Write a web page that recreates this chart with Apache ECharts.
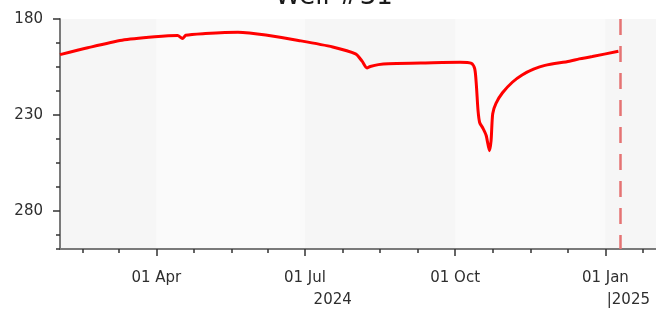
<!DOCTYPE html>
<html>
<head>
<meta charset="utf-8">
<title>Well #31</title>
<script src="https://cdn.jsdelivr.net/npm/echarts@6/dist/echarts.min.js"></script>
<style>
  html, body { margin: 0; padding: 0; background: #fff; }
  #main { width: 656px; height: 311px; }
</style>
</head>
<body>
<div id="main"></div>
<script>
// water level readings (depth)
var obsDates = ['2024-02-02', '2024-02-19', '2024-03-11', '2024-03-31', '2024-04-14', '2024-04-17',
  '2024-04-19', '2024-05-01', '2024-05-21', '2024-05-28', '2024-06-07', '2024-06-27', '2024-07-18',
  '2024-08-01', '2024-08-05', '2024-08-08', '2024-08-10', '2024-08-15', '2024-08-21', '2024-09-10',
  '2024-10-04', '2024-10-11', '2024-10-13', '2024-10-14', '2024-10-15', '2024-10-16', '2024-10-18',
  '2024-10-20', '2024-10-22', '2024-10-23', '2024-10-24', '2024-10-26', '2024-10-30', '2024-11-05',
  '2024-11-11', '2024-11-18', '2024-11-25', '2024-12-10', '2024-12-16', '2024-12-24', '2025-01-09'];
var obsValues = [198.6, 195.0, 191.1, 189.3, 188.6, 190.2,
  188.5, 187.6, 186.9, 187.3, 188.4, 191.2, 194.6,
  198.2, 202.0, 205.5, 204.8, 203.8, 203.3, 203.0,
  202.6, 203.2, 206.0, 214.6, 227.7, 234.0, 237.0,
  240.8, 248.7, 243.5, 229.4, 224.0, 218.5, 213.0,
  209.2, 206.2, 204.2, 202.0, 200.8, 199.6, 196.8];

var axisStart = '2024-02-02';
var axisEnd = '2025-02-01';
var markerDate = '2025-01-10';
var quarterStarts = ['2024-01-01', '2024-04-01', '2024-07-01', '2024-10-01', '2025-01-01', '2025-04-01'];
var quarterLabels = { '2024-04-01': '01 Apr', '2024-07-01': '01 Jul', '2024-10-01': '01 Oct', '2025-01-01': '01 Jan' };
var yearLabels = ['2024', '|2025'];

function fmt(d) { return d.toISOString().slice(0, 10); }
function parse(s) { return new Date(s + 'T00:00:00Z'); }

// daily categories for the x axis
var days = [];
for (var t = parse(axisStart); t <= parse(axisEnd); t = new Date(t.getTime() + 86400000)) {
  days.push(fmt(t));
}

// minor ticks: each quarter cut in four
var minorDays = {};
for (var q = 0; q < quarterStarts.length - 1; q++) {
  var a = parse(quarterStarts[q]), b = parse(quarterStarts[q + 1]);
  var len = (b - a) / 86400000;
  for (var k = 1; k < 4; k++) {
    minorDays[fmt(new Date(a.getTime() + Math.round(len * k / 4) * 86400000))] = true;
  }
}

// year labels: 2024 centred on its visible part, 2025 at its start
var yearIdx2024 = Math.round(days.indexOf('2024-12-31') / 2);
var yearAt = {};
yearAt[days[yearIdx2024]] = yearLabels[0];
yearAt['2025-01-01'] = yearLabels[1];

var seriesData = obsDates.map(function (d, i) { return [d, obsValues[i]]; });

var labelFont = { fontFamily: 'DejaVu Sans', fontSize: 15, color: '#2e2e2e' };

var myChart = echarts.init(document.getElementById('main'));
myChart.setOption({
  animation: false,
  title: {
    text: 'Well #31',
    left: 270,
    top: -21,
    textStyle: { fontFamily: 'DejaVu Sans', fontSize: 26, fontWeight: 'normal', color: '#1a1a1a' }
  },
  grid: {
    left: 60, right: 0, top: 19, bottom: 62,
    show: true, backgroundColor: '#f6f6f6', borderWidth: 0
  },
  xAxis: [
    {
      type: 'category', data: days, boundaryGap: false, position: 'bottom',
      axisLine: { lineStyle: { color: '#7a7a7a', width: 2 } },
      axisTick: {
        interval: function (i, v) { return !!quarterLabels[v]; },
        length: 7, lineStyle: { color: '#333', width: 1.5 }
      },
      axisLabel: Object.assign({
        interval: function (i, v) { return !!quarterLabels[v]; },
        formatter: function (v) { return quarterLabels[v] || ''; },
        margin: 22
      }, labelFont),
      splitLine: { show: false },
      splitArea: {
        show: true,
        interval: function (i, v) { return !!quarterLabels[v]; },
        areaStyle: { color: ['#fafafa', '#f6f6f6'] }
      }
    },
    {
      type: 'category', data: days, boundaryGap: false, position: 'bottom',
      axisLine: { show: false },
      axisTick: {
        interval: function (i, v) { return !!minorDays[v]; },
        length: 4, lineStyle: { color: '#333', width: 1.5 }
      },
      axisLabel: { show: false },
      splitLine: { show: false }
    },
    {
      type: 'category', data: days, boundaryGap: false, position: 'bottom',
      axisLine: { show: false },
      axisTick: { show: false },
      axisLabel: Object.assign({
        interval: function (i, v) { return !!yearAt[v]; },
        formatter: function (v) {
          var s = yearAt[v] || '';
          return s.charAt(0) === '|' ? '{r|' + s + '}' : s;
        },
        margin: 44,
        rich: { r: { fontFamily: 'DejaVu Sans', fontSize: 15, color: '#2e2e2e', padding: [0, 0, 0, 46] } }
      }, labelFont),
      splitLine: { show: false }
    }
  ],
  yAxis: [
    {
      type: 'value', inverse: true, min: 180, max: 300, interval: 50,
      axisLine: { show: true, lineStyle: { color: '#7a7a7a', width: 2 } },
      axisTick: { show: true, length: 7, lineStyle: { color: '#333', width: 1.5 } },
      axisLabel: Object.assign({ showMaxLabel: false, margin: 17 }, labelFont),
      splitLine: { show: false }
    },
    {
      type: 'value', inverse: true, min: 180, max: 300, interval: 12.5, position: 'left',
      axisLine: { show: false },
      axisTick: { show: true, length: 4, lineStyle: { color: '#333', width: 1.5 } },
      axisLabel: { show: false },
      splitLine: { show: false }
    }
  ],
  series: [
    {
      type: 'line',
      xAxisIndex: 0, yAxisIndex: 0,
      data: seriesData,
      symbol: 'none',
      smooth: 0.25,
      lineStyle: { color: '#ff0000', width: 3 },
      markLine: {
        silent: true,
        symbol: ['none', 'none'],
        label: { show: false },
        lineStyle: { color: '#e57373', width: 2.5, type: [16, 11] },
        data: [{ xAxis: markerDate }]
      }
    }
  ]
});
</script>
</body>
</html>
